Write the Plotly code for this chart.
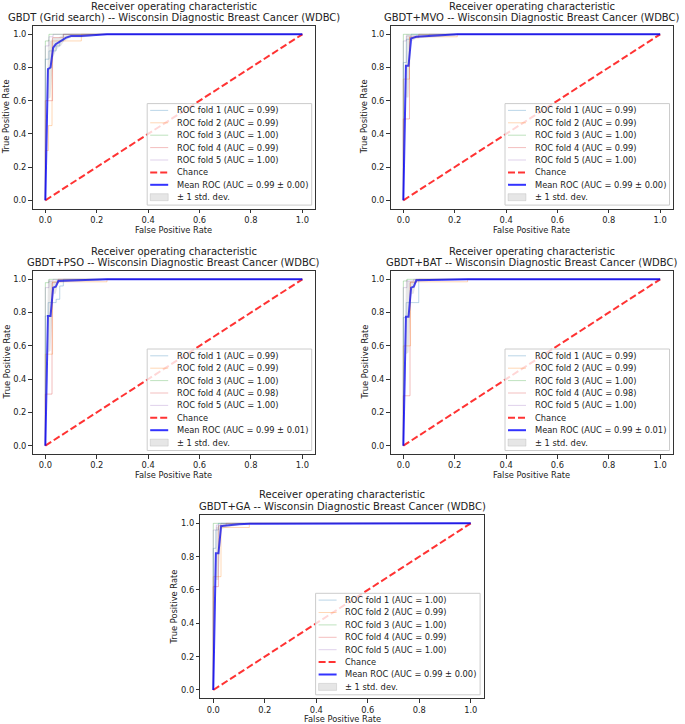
import plotly.graph_objects as go

W, H = 685, 724
FONT = "DejaVu Sans"

# ---------------- data ----------------
model_names = ["GBDT (Grid search)", "GBDT+MVO", "GBDT+PSO", "GBDT+BAT", "GBDT+GA"]
dataset_name = "Wisconsin Diagnostic Breast Cancer (WDBC)"
fold_names = ["ROC fold 1", "ROC fold 2", "ROC fold 3", "ROC fold 4", "ROC fold 5"]

fold_auc = [
    [0.99, 0.99, 1.00, 0.99, 1.00],
    [0.99, 0.99, 1.00, 0.99, 1.00],
    [0.99, 0.99, 1.00, 0.98, 1.00],
    [0.99, 0.99, 1.00, 0.98, 1.00],
    [1.00, 0.99, 1.00, 0.99, 1.00],
]
mean_auc = [0.99, 0.99, 0.99, 0.99, 0.99]
std_auc = [0.00, 0.00, 0.01, 0.01, 0.00]

tick_vals = [0.0, 0.2, 0.4, 0.6, 0.8, 1.0]
tick_text = ["0.0", "0.2", "0.4", "0.6", "0.8", "1.0"]
chance_x = [0.0, 1.0]
chance_y = [0.0, 1.0]

# fold ROC curves (fpr, tpr) per panel
fold_fpr = [
    [[0, 0, 0.014, 0.014, 0.042, 0.042, 0.056, 0.056, 0.07, 0.07, 1],
     [0, 0, 0.012, 0.012, 0.026, 0.026, 0.14, 0.14, 1],
     [0, 0, 0.014, 0.014, 1],
     [0, 0, 0.028, 0.028, 0.07, 0.07, 1],
     [0, 0, 0.014, 0.014, 0.03, 0.03, 1]],
    [[0, 0, 0.012, 0.012, 0.03, 0.03, 1],
     [0, 0, 0.024, 0.024, 0.21, 0.21, 1],
     [0, 0, 1],
     [0, 0, 0.024, 0.024, 0.06, 0.06, 1],
     [0, 0, 0.012, 0.012, 0.1, 0.1, 1]],
    [[0, 0, 0.011, 0.011, 0.042, 0.042, 0.056, 0.056, 0.07, 0.07, 1],
     [0, 0, 0.028, 0.028, 0.24, 0.24, 1],
     [0, 0, 0.014, 0.014, 1],
     [0, 0, 0.026, 0.026, 0.05, 0.05, 1],
     [0, 0, 0.014, 0.014, 0.03, 0.03, 1]],
    [[0, 0, 0.011, 0.011, 0.06, 0.06, 1],
     [0, 0, 0.028, 0.028, 0.25, 0.25, 1],
     [0, 0, 0.014, 0.014, 1],
     [0, 0, 0.026, 0.026, 0.05, 0.05, 1],
     [0, 0, 0.014, 0.014, 0.04, 0.04, 1]],
    [[0, 0, 0.01, 0.01, 0.02, 0.02, 1],
     [0, 0, 0.03, 0.03, 0.14, 0.14, 1],
     [0, 0, 1],
     [0, 0, 0.02, 0.02, 0.05, 0.05, 1],
     [0, 0, 0.012, 0.012, 0.03, 0.03, 1]],
]
fold_tpr = [
    [[0, 0.85, 0.85, 0.90, 0.90, 0.93, 0.93, 0.96, 0.96, 1, 1],
     [0, 0.30, 0.30, 0.45, 0.45, 0.96, 0.96, 1, 1],
     [0, 0.96, 0.96, 1, 1],
     [0, 0.60, 0.60, 0.98, 0.98, 1, 1],
     [0, 0.93, 0.93, 0.985, 0.985, 1, 1]],
    [[0, 0.83, 0.83, 0.97, 0.97, 1, 1],
     [0, 0.73, 0.73, 0.985, 0.985, 1, 1],
     [0, 1, 1],
     [0, 0.49, 0.49, 0.98, 0.98, 1, 1],
     [0, 0.96, 0.96, 0.99, 0.99, 1, 1]],
    [[0, 0.78, 0.78, 0.86, 0.86, 0.88, 0.88, 0.96, 0.96, 1, 1],
     [0, 0.55, 0.55, 0.985, 0.985, 1, 1],
     [0, 0.98, 0.98, 1, 1],
     [0, 0.31, 0.31, 0.98, 0.98, 1, 1],
     [0, 0.95, 0.95, 0.99, 0.99, 1, 1]],
    [[0, 0.77, 0.77, 0.86, 0.86, 1, 1],
     [0, 0.60, 0.60, 0.985, 0.985, 1, 1],
     [0, 0.99, 0.99, 1, 1],
     [0, 0.30, 0.30, 0.98, 0.98, 1, 1],
     [0, 0.95, 0.95, 0.99, 0.99, 1, 1]],
    [[0, 0.85, 0.85, 0.96, 0.96, 1, 1],
     [0, 0.68, 0.68, 0.975, 0.975, 1, 1],
     [0, 1, 1],
     [0, 0.62, 0.62, 0.985, 0.985, 1, 1],
     [0, 0.96, 0.96, 0.99, 0.99, 1, 1]],
]

# mean ROC with +/- 1 std band
mean_fpr = [
    [0, 0.0101, 0.0202, 0.0303, 0.0404, 0.0505, 0.0606, 0.0707, 0.0808, 0.10, 0.14, 0.24, 1.0],
    [0, 0.0101, 0.0202, 0.0303, 0.0404, 0.0505, 0.10, 0.20, 0.21, 1.0],
    [0, 0.0101, 0.0202, 0.0303, 0.0404, 0.0505, 0.10, 0.20, 0.24, 1.0],
    [0, 0.0101, 0.0202, 0.0303, 0.0404, 0.0505, 0.25, 1.0],
    [0, 0.0101, 0.0202, 0.0303, 0.0404, 0.0707, 0.10, 0.14, 1.0],
]
mean_tpr = [
    [0, 0.79, 0.80, 0.92, 0.94, 0.95, 0.96, 0.975, 0.98, 0.99, 0.99, 1.0, 1.0],
    [0, 0.81, 0.81, 0.975, 0.98, 0.985, 0.99, 0.995, 1.0, 1.0],
    [0, 0.78, 0.78, 0.95, 0.955, 0.99, 0.993, 0.995, 1.0, 1.0],
    [0, 0.775, 0.775, 0.95, 0.955, 0.995, 1.0, 1.0],
    [0, 0.82, 0.82, 0.983, 0.985, 0.99, 0.995, 0.997, 1.0],
]
tpr_lower = [
    [0, 0.61, 0.62, 0.86, 0.90, 0.92, 0.93, 0.955, 0.965, 0.98, 0.98, 1.0, 1.0],
    [0, 0.62, 0.62, 0.955, 0.965, 0.975, 0.98, 0.99, 1.0, 1.0],
    [0, 0.56, 0.57, 0.91, 0.915, 0.98, 0.987, 0.99, 1.0, 1.0],
    [0, 0.55, 0.56, 0.91, 0.915, 0.99, 1.0, 1.0],
    [0, 0.66, 0.66, 0.965, 0.97, 0.98, 0.99, 0.994, 1.0],
]
tpr_upper = [
    [0, 0.97, 0.96, 0.98, 0.98, 0.98, 0.99, 0.995, 0.995, 1.0, 1.0, 1.0, 1.0],
    [0, 1.0, 1.0, 0.995, 0.995, 0.995, 1.0, 1.0, 1.0, 1.0],
    [0, 1.0, 0.99, 0.99, 0.995, 1.0, 1.0, 1.0, 1.0, 1.0],
    [0, 1.0, 0.99, 0.99, 0.995, 1.0, 1.0, 1.0],
    [0, 0.98, 0.98, 1.0, 1.0, 1.0, 1.0, 1.0, 1.0],
]

# ---------------- styling / layout ----------------
fold_colors = ["rgba(31,119,180,0.3)", "rgba(255,127,14,0.3)", "rgba(44,160,44,0.3)",
               "rgba(214,39,40,0.3)", "rgba(148,103,189,0.3)"]
chance_color = "rgba(255,0,0,0.8)"
mean_color = "rgba(0,0,255,0.8)"
band_color = "rgba(128,128,128,0.2)"
DASH = "7px,3px"

# axes boxes in pixels: (left, top, right, bottom)
boxes = [
    (32.5, 26.0, 315.2, 208.6),
    (390.5, 26.0, 673.0, 208.6),
    (32.5, 271.0, 315.2, 454.0),
    (390.5, 271.0, 673.0, 454.0),
    (200.4, 515.0, 483.6, 698.3),
]
xlabel_gap = [21.5, 21.5, 21.5, 21.5, 20.5]


def px(x):
    return x / W


def py(y):
    return 1 - y / H


fig = go.Figure()
shapes = []
annotations = []
TXT = "#222222"

for k in range(5):
    L, T, R, B = boxes[k]
    sfx = "" if k == 0 else str(k + 1)
    xa, ya = "x" + sfx, "y" + sfx

    for f in range(5):
        fig.add_trace(go.Scatter(x=fold_fpr[k][f], y=fold_tpr[k][f], mode="lines",
                                 line=dict(color=fold_colors[f], width=1),
                                 xaxis=xa, yaxis=ya, showlegend=False, hoverinfo="skip"))
    fig.add_trace(go.Scatter(x=chance_x, y=chance_y, mode="lines",
                             line=dict(color=chance_color, width=2, dash=DASH),
                             xaxis=xa, yaxis=ya, showlegend=False, hoverinfo="skip"))
    fig.add_trace(go.Scatter(x=mean_fpr[k], y=mean_tpr[k], mode="lines",
                             line=dict(color=mean_color, width=2),
                             xaxis=xa, yaxis=ya, showlegend=False, hoverinfo="skip"))
    fig.add_trace(go.Scatter(x=mean_fpr[k], y=tpr_lower[k], mode="lines",
                             line=dict(width=0, color=band_color),
                             xaxis=xa, yaxis=ya, showlegend=False, hoverinfo="skip"))
    fig.add_trace(go.Scatter(x=mean_fpr[k], y=tpr_upper[k], mode="lines",
                             line=dict(width=0, color=band_color), fill="tonexty",
                             fillcolor=band_color,
                             xaxis=xa, yaxis=ya, showlegend=False, hoverinfo="skip"))

    axis_common = dict(range=[-0.05, 1.05], tickvals=tick_vals, ticktext=tick_text,
                       ticks="outside", ticklen=3.5, tickwidth=0.8, tickcolor="#333333",
                       showline=True, mirror=True, linecolor="#333333", linewidth=1,
                       showgrid=False, zeroline=False, fixedrange=True,
                       tickfont=dict(family=FONT, size=8.3, color=TXT))
    fig.layout["xaxis" + sfx] = dict(axis_common, domain=[px(L), px(R)], anchor=ya)
    fig.layout["yaxis" + sfx] = dict(axis_common, domain=[py(B), py(T)], anchor=xa)

    cx = (L + R) / 2
    annotations.append(dict(x=px(cx), y=py(T - 20.0), xref="paper", yref="paper",
                            text="Receiver operating characteristic", showarrow=False,
                            xanchor="center", yanchor="middle",
                            font=dict(family=FONT, size=10, color=TXT)))
    annotations.append(dict(x=px(cx), y=py(T - 8.7), xref="paper", yref="paper",
                            text=f"{model_names[k]} -- {dataset_name}", showarrow=False,
                            xanchor="center", yanchor="middle",
                            font=dict(family=FONT, size=10, color=TXT)))
    annotations.append(dict(x=px(cx), y=py(B + xlabel_gap[k]), xref="paper", yref="paper",
                            text="False Positive Rate", showarrow=False,
                            xanchor="center", yanchor="middle",
                            font=dict(family=FONT, size=8.3, color=TXT)))
    annotations.append(dict(x=px(L - 26.5), y=py((T + B) / 2), xref="paper", yref="paper",
                            text="True Positive Rate", showarrow=False, textangle=-90,
                            xanchor="center", yanchor="middle",
                            font=dict(family=FONT, size=8.3, color=TXT)))

    # legend box (lower right)
    lx0, lx1 = R - 168.0, R - 3.5
    ly0, ly1 = B - 105.0, B - 3.5
    shapes.append(dict(type="rect", xref="paper", yref="paper", layer="above",
                       x0=px(lx0), x1=px(lx1), y0=py(ly1), y1=py(ly0),
                       fillcolor="rgba(255,255,255,0.8)",
                       line=dict(color="#cccccc", width=1)))
    labels = [f"{fold_names[f]} (AUC = {fold_auc[k][f]:.2f})" for f in range(5)]
    labels += ["Chance", f"Mean ROC (AUC = {mean_auc[k]:.2f} \u00b1 {std_auc[k]:.2f})",
               "\u00b1 1 std. dev."]
    for i, lab in enumerate(labels):
        cy = ly0 + 6.8 + i * 12.4
        hx0, hx1 = lx0 + 3, lx0 + 21
        if i < 5:
            shapes.append(dict(type="line", xref="paper", yref="paper", layer="above",
                               x0=px(hx0), x1=px(hx1), y0=py(cy), y1=py(cy),
                               line=dict(color=fold_colors[i], width=1)))
        elif i == 5:
            shapes.append(dict(type="line", xref="paper", yref="paper", layer="above",
                               x0=px(hx0), x1=px(hx1), y0=py(cy), y1=py(cy),
                               line=dict(color=chance_color, width=2, dash=DASH)))
        elif i == 6:
            shapes.append(dict(type="line", xref="paper", yref="paper", layer="above",
                               x0=px(hx0), x1=px(hx1), y0=py(cy), y1=py(cy),
                               line=dict(color=mean_color, width=2)))
        else:
            shapes.append(dict(type="rect", xref="paper", yref="paper", layer="above",
                               x0=px(hx0), x1=px(hx1), y0=py(cy + 3.5), y1=py(cy - 3.5),
                               fillcolor=band_color, line=dict(color=band_color, width=1)))
        annotations.append(dict(x=px(lx0 + 27.5), y=py(cy), xref="paper", yref="paper",
                                text=lab, showarrow=False, xanchor="left", yanchor="middle",
                                font=dict(family=FONT, size=8.3, color=TXT)))

fig.update_layout(width=W, height=H, margin=dict(l=0, r=0, t=0, b=0),
                  paper_bgcolor="white", plot_bgcolor="white", showlegend=False,
                  shapes=shapes, annotations=annotations,
                  font=dict(family=FONT, size=8.3, color=TXT))

fig.write_html("out.html", config={"displayModeBar": False},
               post_script="document.body.style.margin='0px';"
                           "document.body.style.overflow='hidden';")
